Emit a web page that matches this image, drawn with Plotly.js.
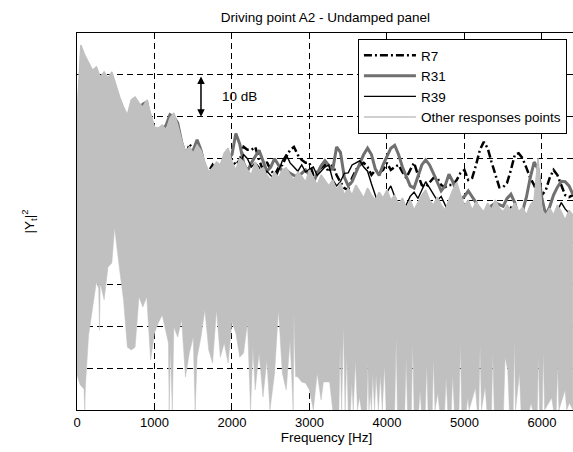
<!DOCTYPE html>
<html>
<head>
<meta charset="utf-8">
<script src="https://cdn.plot.ly/plotly-3.0.1.min.js"></script>
<style>html,body{margin:0;padding:0;overflow:hidden;background:#fff;}</style>
</head>
<body>
<div id="chart" style="width:576px;height:452px;"></div>
<script>
// Frequency grid [Hz]
const freq = [0,50,100,150,200,250,300,350,400,450,500,550,600,650,700,750,800,850,900,950,
1000,1050,1100,1150,1200,1250,1300,1350,1400,1450,1500,1550,1600,1650,1700,1750,1800,1850,1900,1950,
2000,2050,2100,2150,2200,2250,2300,2350,2400,2450,2500,2550,2600,2650,2700,2750,2800,2850,2900,2950,
3000,3050,3100,3150,3200,3250,3300,3350,3400,3450,3500,3550,3600,3650,3700,3750,3800,3850,3900,3950,
4000,4050,4100,4150,4200,4250,4300,4350,4400,4450,4500,4550,4600,4650,4700,4750,4800,4850,4900,4950,
5000,5050,5100,5150,5200,5250,5300,5350,5400,5450,5500,5550,5600,5650,5700,5750,5800,5850,5900,5950,
6000,6050,6100,6150,6200,6250,6300,6350,6400];

// |Yt|^2 in dB (relative; 10 dB per grid division)
const r7 = [65,80,83,80,78,76,76,77,75,75,74,72,70,68,70,71,70,68,67,67.5,
67,66,67.5,64,66,67,64,62,60,63.5,62,60,59,57,57,58.5,57,58,60,61,
59.7,58.5,59.7,62.8,62.1,62.1,62.8,59.7,57.3,59.2,57.3,56.1,57.8,58.5,60.4,62.1,62.8,60.9,59.7,59,
59,56.1,56.8,57.8,58.5,56.8,58.5,56.1,54.4,53,52.5,55.4,57.3,58.5,59,58,56.1,57.3,56.6,57.3,
59,57.3,58,58.5,56.8,55.4,57.3,59,56.1,53.7,53.2,54.2,55.4,55.4,53.7,53.2,53.7,53.7,54.9,56.6,
57.3,54.9,55.4,58.5,62.1,64,62.5,59.2,56.1,53.2,53.2,54.2,57.3,60.9,61.3,60.1,57.8,55.4,53.7,51.3,
51.3,52.5,55.4,57.3,56.1,53.7,51.3,50.8,51.3];

const r31 = [62,78,80,79,78,77,76,76,75,74,73,71,70,69,71,72,72,73,73.5,69,
67,66,67,68,70.5,70,68.5,64,61,62,62,64.5,62,58,56,55,57,56,58,60,
61,66,63.5,59,57,59,60.5,62,59.5,57,58,60,58.5,57,57.3,56.5,56,55.6,56.5,57.3,
56,54.2,56.5,58.3,59.5,58.5,57.3,62.8,61.5,55.6,53.5,54.5,56.6,58.5,61,62.5,61,57.5,56,58.5,
60.5,62.5,63.2,61,58,55.6,53.5,53,56,58.5,59.7,58.5,56.5,54.5,52.3,53.5,56.3,54.5,52,50.2,
51,52.3,51,49.5,46.5,47.2,47.8,48.8,49.4,49,48.6,50.5,51.5,49.5,46,47.5,50.8,55.5,59.2,57.5,
50.5,46.5,48.5,51.3,53.2,54.6,54.5,53.5,51.5];

const r39 = [64,79,83.5,78,77,78,75,76,74,76,72,70,68,67,69,70,69,69,70,66,
64,65,64,63,65,66,63,60,58,61,60,59,58,56,55,56,58.5,57,59,60.5,
58,57,58.5,61,60,58,59,58,55.5,57,56,55,57,59.5,61,59,58,57,58.5,56.8,
57.5,58,56,57,58,58.5,55,53.5,54.5,56.5,56.6,58.5,59,59.5,58,57,54,51,48.5,50.5,
52,53.5,51,49,47.5,49,51,52,50.5,52.5,54.5,53,51.5,50,51,49,47,46,47.5,49,
48,46.5,47.5,49,48,46.5,45.5,47,48.5,47.5,46,47,48.5,47.5,46,45,46.5,48,49,47.5,
46,45.5,47,45.5,47.5,49.5,48,47,46.5];

// Other response points: upper envelope of the overlapping curves
const otherTop = [70,87.1,84.7,83,81.1,81.9,79.5,80.7,79.2,80.7,77.6,74.7,72.3,70.4,74,74.7,73.3,72.3,74,70.9,
67.5,67.3,68,66.8,69.7,70.9,68,64.4,61.6,62.8,61.3,63.2,62,59.2,56.8,57.8,59.2,58.5,61.3,62.5,
59.2,57.3,60.1,59.2,57.3,56.1,59.2,57.3,57.8,56.1,54.9,56.8,55.4,57.3,57.8,56.1,54.9,56.8,55.8,54.4,
57.3,55.4,53.7,56.1,54.9,53.5,54.9,52.5,54.2,51.3,53,51.3,53.7,52,50.6,53,51.3,50.1,52,50.6,
52.5,50.1,51.3,48.9,50.6,48.2,50.1,47.7,49.4,51.3,52.5,50.1,48.9,50.8,48.9,47.7,50.1,52.5,54.4,51.3,
48.9,50.1,47.7,49.6,48.4,47.3,49.4,47.7,50.1,48.2,47.3,48.9,47.7,49.4,47.3,48.4,46.5,48.9,50.1,60.1,
47.7,46.5,48.2,46.5,48.9,47.3,45.3,47.7,46.5];

// Other response points: lower envelope (frequency, dB) of the overlapping curves
const otherLowFreq = [0,40,90,100,110,150,200,250,280,290,300,350,400,450,485,500,550,600,650,700,
750,800,850,900,950,1000,1050,1100,1150,1180,1190,1205,1230,1250,1300,1350,1400,1450,1500,1525,
1550,1600,1650,1700,1750,1800,1850,1900,1950,2000,2050,2100,2150,2200,2240,2270,2300,2350,2400,2450,
2490,2550,2600,2650,2700,2750,2790,2800,2820,2850,2900,2950,3000,3050,3100,3150,3180,3260,3300,3380,
3396,3415,3439,3460,3482,3500,3530,3546,3565,3594,3620,3645,3670,3740,3753,3768,3783,3800,3817,3840,
3860,3890,3916,3940,3968,3990,4100,4119,4135,4230,4248,4265,4315,4333,4350,4410,4428,4445,4495,4514,
4530,4585,4600,4620,4656,4680,4745,4764,4785,4830,4849,4870,4930,4948,4965,5025,5043,5060,5142,5165,
5185,5202,5220,5267,5290,5350,5366,5385,5505,5525,5559,5580,5630,5645,5660,5710,5730,5840,5860,5880,
5940,5955,5970,6005,6019,6035,6127,6150,6185,6204,6220,6299,6320,6355,6400];
const otherLowDb = [8.4,6,5,0,6,17.9,24.3,30.5,29,19,30.3,26.3,34.1,35.1,43.5,40.6,33.4,26.3,15,14.3,
15,27,24.6,27,11.9,18.4,20.8,22.7,18.4,16,0,15,0,19.8,17.4,21.5,7.9,13.6,17.4,0,
12.6,17.4,23.9,14.3,11.2,23.9,12.6,16,11.2,21,18.4,12.6,13.6,20.8,0,15,4.8,13.6,3.1,11.9,
0,8.8,23.9,8.8,4.8,16.7,0,23.2,8,7.9,6.7,6.4,4.8,0,8.8,2.4,6.7,6.7,0,0,
15.5,0,20.3,0,13,0,0,6.7,0,11.9,0,3.1,0,0,11.2,0,4,0,8.8,0,
8.4,0,8.4,0,10.7,0,0,17.4,0,0,12.6,0,0,16,0,0,4.8,0,0,11.2,
0,0,12.6,0,4,0,0,7.9,0,0,8.4,0,0,16,0,0,3.1,0,5.3,0,
0,15.5,0,5.5,0,0,13.6,0,0,12.6,9.5,0,0,17.2,0,8.8,0,0,1.7,0,
0,13.1,0,0,14.3,0,2.9,0,0,10.7,0,4.8,0,1.7,0];

const xTicks = [0,1000,2000,3000,4000,5000,6000];
const font = 'Arial, "Liberation Sans", sans-serif';
const FS = 13.5;
const GRAY = '#c0c0c0';

// closed band of the other response curves: upper envelope forward, lower envelope back
const bandX = freq.concat(otherLowFreq.slice().reverse());
const bandY = otherTop.concat(otherLowDb.slice().reverse());

const traces = [
  {x: freq, y: r7, name: 'R7', mode: 'lines', legendgroup: 'a',
   line: {color: '#000', width: 2.5, dash: '8px,3px,2px,3px'}},
  {x: freq, y: r31, name: 'R31', mode: 'lines', legendgroup: 'b',
   line: {color: '#707070', width: 3}},
  {x: freq, y: r39, name: 'R39', mode: 'lines', legendgroup: 'c',
   line: {color: '#000', width: 1.4}},
  {x: bandX, y: bandY, name: 'Other responses points', mode: 'lines', legendgroup: 'd',
   showlegend: false, fill: 'toself', fillcolor: GRAY,
   line: {color: GRAY, width: 0.5}},
  {x: freq, y: otherTop, name: 'Other responses points', mode: 'lines', legendgroup: 'd',
   line: {color: GRAY, width: 1.5}}
];

const layout = {
  width: 576, height: 452,
  margin: {l: 77, r: 0, t: 33, b: 42},
  paper_bgcolor: '#fff', plot_bgcolor: '#fff',
  font: {family: font, size: FS, color: '#000'},
  showlegend: true,
  title: {text: 'Driving point A2 - Undamped panel', font: {size: FS, family: font, color: '#000'},
          x: 0.565, xanchor: 'center', xref: 'container', y: 0.962, yanchor: 'middle', yref: 'container'},
  xaxis: {range: [0, 6440], tickvals: xTicks, ticktext: xTicks.map(String),
          ticks: 'inside', ticklen: 4, tickcolor: '#000',
          showline: true, linecolor: '#000', linewidth: 1, mirror: 'ticks',
          showgrid: true, gridcolor: '#000', gridwidth: 1, griddash: '6px,4px',
          zeroline: false, layer: 'below traces',
          tickfont: {size: 13, family: font, color: '#000'},
          title: {text: 'Frequency [Hz]', standoff: 3, font: {size: FS, family: font, color: '#000'}}},
  yaxis: {range: [0, 90], tick0: 0, dtick: 10, showticklabels: false,
          ticks: 'inside', ticklen: 4, tickcolor: '#000',
          showline: true, linecolor: '#000', linewidth: 1, mirror: 'ticks',
          showgrid: true, gridcolor: '#000', gridwidth: 1, griddash: '6px,4px',
          zeroline: false, layer: 'below traces',
          title: {text: '|Y<sub>t</sub>|<sup>2</sup>', standoff: 38, font: {size: FS, family: font, color: '#000'}}},
  legend: {x: 0.563, xanchor: 'left', y: 0.984, yanchor: 'top',
           traceorder: 'grouped', tracegroupgap: 0, itemwidth: 52,
           bgcolor: '#fff', bordercolor: '#000', borderwidth: 1,
           font: {size: FS, family: font, color: '#000'}},
  annotations: [
    {x: 1600, y: 70, ax: 1600, ay: 80, xref: 'x', yref: 'y', axref: 'x', ayref: 'y',
     text: '', showarrow: true, arrowhead: 2, startarrowhead: 2, arrowside: 'end+start',
     arrowsize: 1, startarrowsize: 1, arrowwidth: 1.5, arrowcolor: '#000'},
    {x: 1840, y: 74.9, xref: 'x', yref: 'y', text: '10 dB', showarrow: false,
     xanchor: 'left', yanchor: 'middle', font: {size: FS, family: font, color: '#000'}}
  ]
};

Plotly.newPlot('chart', traces, layout, {staticPlot: true, displayModeBar: false});
</script>
</body>
</html>
